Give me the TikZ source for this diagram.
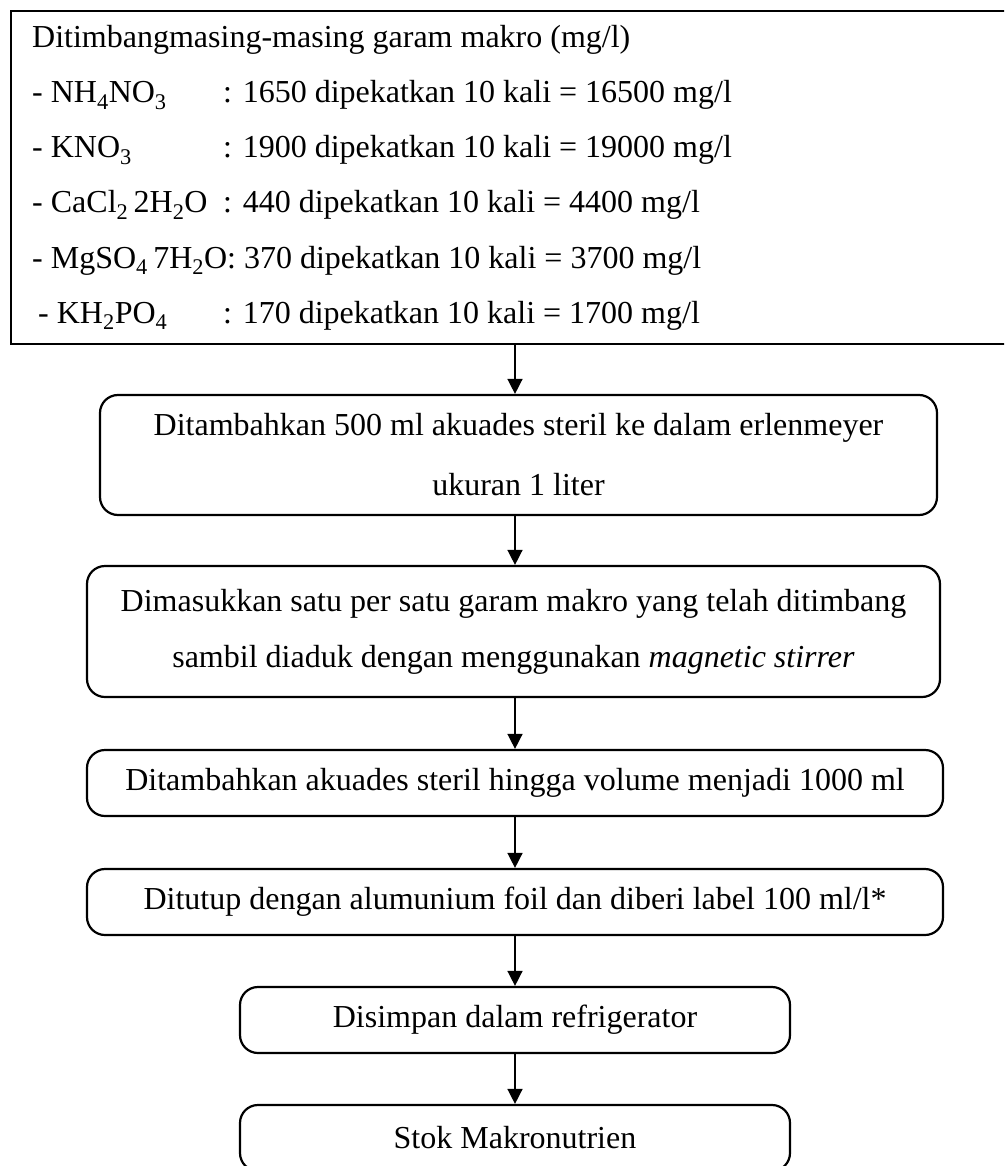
\documentclass[tikz,border=0pt]{standalone}
\usepackage{fontspec}
\setmainfont{Liberation Serif}
\usetikzlibrary{arrows.meta}
\usetikzlibrary{positioning}

\tikzset{
    kotak/.style={draw, line width=2.2pt, rounded corners=18pt, align=center, inner sep=0pt},
    baris/.style={anchor=base west, inner sep=0pt},
    panah/.style={-{Triangle[length=15pt,width=15pt]}, line width=1.5pt},
}

\begin{document}
\begin{tikzpicture}[x=1pt, y=-1pt, font=\fontsize{32pt}{55pt}\selectfont]
    \useasboundingbox (0,0) rectangle (1004,1166);
    \clip (0,0) rectangle (1004,1166);

    \node[draw, line width=2.2pt, anchor=north west, minimum width=1010pt,
        minimum height=333pt, inner sep=0pt] (garam) at (10,10) {};
    \node[baris] (judul) at (32,48) {Ditimbangmasing-masing garam makro (mg/l)};
    \node[baris] (nh) at (32,103) {- NH\textsubscript{4}NO\textsubscript{3}};
    \node[baris] (nhisi) at (223,103) {: 1650 dipekatkan 10 kali = 16500 mg/l};
    \node[baris] (kn) at (32,158) {- KNO\textsubscript{3}};
    \node[baris] (knisi) at (223,158) {: 1900 dipekatkan 10 kali = 19000 mg/l};
    \node[baris] (ca) at (32,213) {- CaCl\textsubscript{2}\,2H\textsubscript{2}O};
    \node[baris] (caisi) at (223,213) {: 440 dipekatkan 10 kali = 4400 mg/l};
    \node[baris] (mg) at (32,268) {- MgSO\textsubscript{4}\,7H\textsubscript{2}O: 370 dipekatkan 10 kali = 3700 mg/l};
    \node[baris] (kh) at (38,323) {- KH\textsubscript{2}PO\textsubscript{4}};
    \node[baris] (khisi) at (223,323) {: 170 dipekatkan 10 kali = 1700 mg/l};

    \coordinate (sumbu) at (515,0);

    \node[kotak, minimum width=837pt, minimum height=120pt, font=\fontsize{32pt}{60pt}\selectfont]
        (akuades) at (518.5,455) {Ditambahkan 500 ml akuades steril ke dalam erlenmeyer\\ukuran 1 liter};
    \node[kotak, minimum width=853pt, minimum height=131pt, font=\fontsize{32pt}{56pt}\selectfont]
        (aduk) at (513.5,631.5) {Dimasukkan satu per satu garam makro yang telah ditimbang\\sambil diaduk dengan menggunakan \textit{magnetic stirrer}};
    \node[kotak, minimum width=856pt, minimum height=66pt] (volume) at (515,783)
        {Ditambahkan akuades steril hingga volume menjadi 1000 ml};
    \node[kotak, minimum width=856pt, minimum height=66pt] (tutup) at (515,902)
        {Ditutup dengan alumunium foil dan diberi label 100 ml/l*};
    \node[kotak, minimum width=550pt, minimum height=66pt] (simpan) at (515,1020)
        {Disimpan dalam refrigerator};
    \node[kotak, minimum width=550pt, minimum height=66pt] (stok) at (515,1138)
        {Stok Makronutrien};

    \draw[panah] (garam.south -| sumbu) -- (akuades.north -| sumbu);
    \draw[panah] (akuades.south -| sumbu) -- (aduk.north -| sumbu);
    \draw[panah] (aduk.south -| sumbu) -- (volume.north -| sumbu);
    \draw[panah] (volume.south -| sumbu) -- (tutup.north -| sumbu);
    \draw[panah] (tutup.south -| sumbu) -- (simpan.north -| sumbu);
    \draw[panah] (simpan.south -| sumbu) -- (stok.north -| sumbu);
\end{tikzpicture}
\end{document}
